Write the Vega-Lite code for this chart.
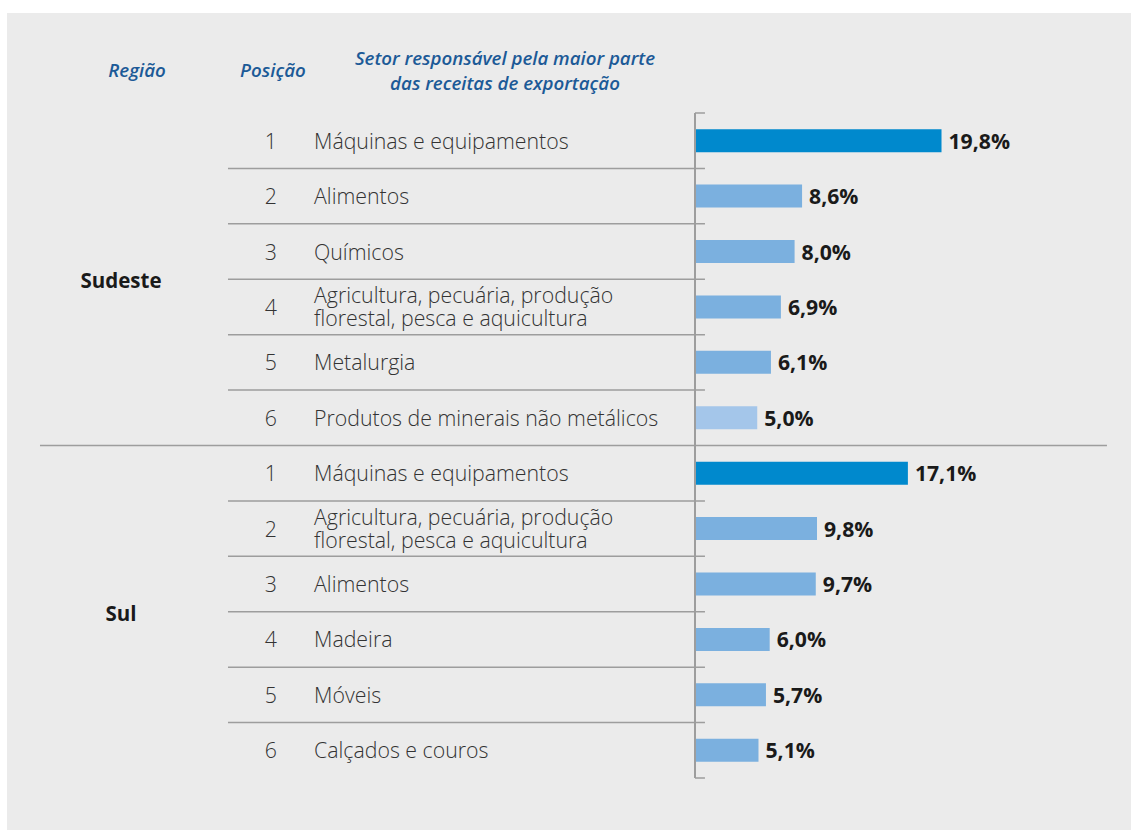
{
  "$schema": "https://vega.github.io/schema/vega-lite/v6.json",
  "width": 1131,
  "height": 830,
  "autosize": {"type": "fit", "contains": "padding"},
  "padding": {"left": 7, "top": 13, "right": 0, "bottom": 0},
  "background": "#ffffff",
  "config": {"view": {"fill": "#ebebeb", "stroke": null}, "font": "Open Sans"},
  "datasets": {
    "rows": [
      {"key": "Sudeste 1", "region": "Sudeste", "rank": 1, "sector": "Máquinas e equipamentos", "pct": 19.8},
      {"key": "Sudeste 2", "region": "Sudeste", "rank": 2, "sector": "Alimentos", "pct": 8.6},
      {"key": "Sudeste 3", "region": "Sudeste", "rank": 3, "sector": "Químicos", "pct": 8.0},
      {"key": "Sudeste 4", "region": "Sudeste", "rank": 4, "sector": "Agricultura, pecuária, produção\nflorestal, pesca e aquicultura", "pct": 6.9},
      {"key": "Sudeste 5", "region": "Sudeste", "rank": 5, "sector": "Metalurgia", "pct": 6.1},
      {"key": "Sudeste 6", "region": "Sudeste", "rank": 6, "sector": "Produtos de minerais não metálicos", "pct": 5.0},
      {"key": "Sul 1", "region": "Sul", "rank": 1, "sector": "Máquinas e equipamentos", "pct": 17.1},
      {"key": "Sul 2", "region": "Sul", "rank": 2, "sector": "Agricultura, pecuária, produção\nflorestal, pesca e aquicultura", "pct": 9.8},
      {"key": "Sul 3", "region": "Sul", "rank": 3, "sector": "Alimentos", "pct": 9.7},
      {"key": "Sul 4", "region": "Sul", "rank": 4, "sector": "Madeira", "pct": 6.0},
      {"key": "Sul 5", "region": "Sul", "rank": 5, "sector": "Móveis", "pct": 5.7},
      {"key": "Sul 6", "region": "Sul", "rank": 6, "sector": "Calçados e couros", "pct": 5.1}
    ]
  },
  "data": {"name": "rows"},
  "encoding": {
    "y": {
      "field": "key",
      "type": "nominal",
      "axis": null,
      "scale": {
        "domain": ["h", "Sudeste 1", "Sudeste 2", "Sudeste 3", "Sudeste 4", "Sudeste 5", "Sudeste 6", "Sul 1", "Sul 2", "Sul 3", "Sul 4", "Sul 5", "Sul 6"],
        "range": [44.58, 765],
        "paddingInner": 0,
        "paddingOuter": 0
      }
    }
  },
  "layer": [
    {
      "mark": {"type": "bar", "size": 23},
      "encoding": {
        "x": {"field": "pct", "type": "quantitative", "axis": null, "scale": {"domain": [-55.26, 35.02], "nice": false, "zero": false}},
        "x2": {"datum": 0},
        "color": {
          "condition": [
            {"test": "datum.rank == 1", "value": "#0089cd"},
            {"test": "datum.region == 'Sudeste' && datum.rank == 6", "value": "#a4c6ea"}
          ],
          "value": "#7bb0df"
        }
      }
    },
    {
      "transform": [{"calculate": "replace(format(datum.pct, '.1f'), '.', ',') + '%'", "as": "lbl"}],
      "mark": {"type": "text", "align": "left", "baseline": "middle", "dx": 7, "dy": 2, "fontSize": 21.2, "fontWeight": "bold", "color": "#1a1a1a"},
      "encoding": {
        "x": {"field": "pct", "type": "quantitative"},
        "text": {"field": "lbl"}
      }
    },
    {
      "transform": [{"filter": "indexof(datum.sector, '\\n') < 0"}],
      "mark": {"type": "text", "align": "left", "baseline": "middle", "dy": 2, "fontSize": 21.3, "fontWeight": 300, "color": "#333333"},
      "encoding": {
        "x": {"datum": -30.6},
        "text": {"field": "sector"}
      }
    },
    {
      "transform": [{"filter": "indexof(datum.sector, '\\n') >= 0"}],
      "mark": {"type": "text", "align": "left", "baseline": "middle", "dy": -9.5, "fontSize": 21.3, "fontWeight": 300, "color": "#333333", "lineBreak": "\n", "lineHeight": 23},
      "encoding": {
        "x": {"datum": -30.6},
        "text": {"field": "sector"}
      }
    },
    {
      "mark": {"type": "text", "align": "center", "baseline": "middle", "dy": 2, "fontSize": 21.3, "fontWeight": 300, "color": "#333333"},
      "encoding": {
        "x": {"datum": -34.06},
        "text": {"field": "rank"}
      }
    },
    {
      "transform": [{"filter": "datum.rank == 4"}],
      "mark": {"type": "text", "align": "center", "baseline": "middle", "dy": 3, "fontSize": 20.5, "fontWeight": "bold", "color": "#1a1a1a"},
      "encoding": {
        "x": {"datum": -46.1},
        "y": {"field": "key", "type": "nominal", "bandPosition": 0},
        "text": {"field": "region"}
      }
    },
    {
      "transform": [{"filter": "datum.rank > 1"}],
      "mark": {"type": "rule", "color": "#9d9d9d", "strokeWidth": 1.5},
      "encoding": {
        "x": {"datum": -37.51},
        "x2": {"datum": 0.8},
        "y": {"field": "key", "type": "nominal", "bandPosition": 0}
      }
    },
    {
      "transform": [{"filter": "datum.region == 'Sul' && datum.rank == 1"}],
      "mark": {"type": "rule", "color": "#9d9d9d", "strokeWidth": 1.5},
      "encoding": {
        "x": {"datum": -52.61},
        "x2": {"datum": 33.09},
        "y": {"field": "key", "type": "nominal", "bandPosition": 0}
      }
    },
    {
      "transform": [{"filter": "datum.region == 'Sudeste' && datum.rank == 1"}],
      "mark": {"type": "rule", "color": "#9d9d9d", "strokeWidth": 1.5},
      "encoding": {
        "x": {"datum": 0},
        "x2": {"datum": 0.8},
        "y": {"field": "key", "type": "nominal", "bandPosition": 0}
      }
    },
    {
      "transform": [{"filter": "datum.region == 'Sul' && datum.rank == 6"}],
      "mark": {"type": "rule", "color": "#9d9d9d", "strokeWidth": 1.5},
      "encoding": {
        "x": {"datum": 0},
        "x2": {"datum": 0.8},
        "y": {"field": "key", "type": "nominal", "bandPosition": 1}
      }
    },
    {
      "mark": {"type": "rule", "color": "#9d9d9d", "strokeWidth": 2},
      "encoding": {
        "x": {"datum": 0},
        "y": {"field": "key", "type": "nominal", "bandPosition": 0},
        "y2": {"field": "key", "bandPosition": 1}
      }
    },
    {
      "data": {"values": [{"key": "h", "label": "Região"}]},
      "mark": {"type": "text", "align": "center", "baseline": "middle", "dy": -14, "fontSize": 18.7, "fontStyle": "italic", "fontWeight": 600, "color": "#1c5a97"},
      "encoding": {"x": {"datum": -44.82}, "text": {"field": "label"}}
    },
    {
      "data": {"values": [{"key": "h", "label": "Posição"}]},
      "mark": {"type": "text", "align": "center", "baseline": "middle", "dy": -14, "fontSize": 18.7, "fontStyle": "italic", "fontWeight": 600, "color": "#1c5a97"},
      "encoding": {"x": {"datum": -33.9}, "text": {"field": "label"}}
    },
    {
      "data": {"values": [{"key": "h", "label": "Setor responsável pela maior parte\ndas receitas de exportação"}]},
      "mark": {"type": "text", "align": "center", "baseline": "middle", "dy": -26.5, "fontSize": 18.7, "fontStyle": "italic", "fontWeight": 600, "color": "#1c5a97", "lineBreak": "\n", "lineHeight": 25},
      "encoding": {"x": {"datum": -15.26}, "text": {"field": "label"}}
    }
  ]
}
